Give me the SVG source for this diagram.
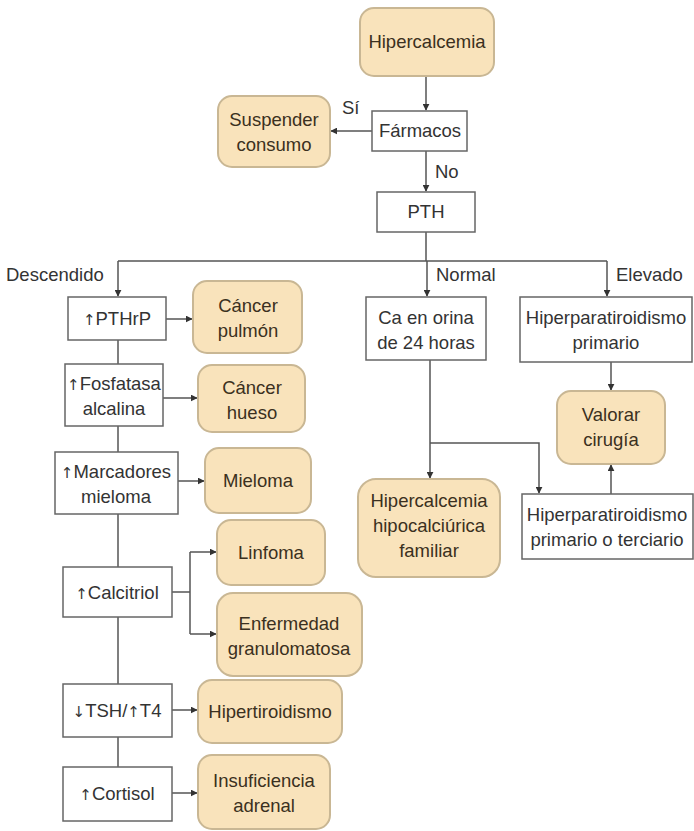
<svg xmlns="http://www.w3.org/2000/svg" width="694" height="831" viewBox="0 0 694 831">
<defs>
<marker id="ah" viewBox="0 0 10 10" refX="9" refY="5" markerWidth="7" markerHeight="7" orient="auto" markerUnits="userSpaceOnUse">
<path d="M0,0 L10,5 L0,10 z" fill="#333"/>
</marker>
<style>
.box{fill:#fff;stroke:#666;stroke-width:1.5}
.res{fill:#f9e3bb;stroke:#c9b794;stroke-width:2}
text{font-family:"Liberation Sans",Arial,sans-serif;font-size:18.5px;fill:#333;text-anchor:middle}
.ar{font-family:"DejaVu Sans",sans-serif;font-size:15px;fill:#333}
.rt{fill:#3b3020}
.lbl{text-anchor:start}
.c{fill:none;stroke:#555;stroke-width:1.5}
.ca{fill:none;stroke:#555;stroke-width:1.5;marker-end:url(#ah)}
</style>
</defs>
<rect width="694" height="831" fill="#fff"/>
<g id="connectors">
<path class="ca" d="M426,76 V110"/>
<path class="ca" d="M372,131 H331"/>
<path class="ca" d="M426,151 V191"/>
<path class="c" d="M426,232 V261 M118,261 H607"/>
<path class="ca" d="M118,261 V296"/>
<path class="ca" d="M427,261 V296"/>
<path class="ca" d="M607,261 V296"/>
<path class="ca" d="M166,319 H192"/>
<path class="c" d="M118,340 V364"/>
<path class="ca" d="M163,398 H197"/>
<path class="c" d="M118,426 V452"/>
<path class="ca" d="M178,481 H204"/>
<path class="c" d="M118,514 V567"/>
<path class="c" d="M172,592 H190 M190,552 V634"/>
<path class="ca" d="M190,552 H216"/>
<path class="ca" d="M190,634 H216"/>
<path class="c" d="M118,617 V684"/>
<path class="ca" d="M172,710 H197"/>
<path class="c" d="M118,737 V767"/>
<path class="ca" d="M172,793 H197"/>
<path class="ca" d="M430,360 V478"/>
<path class="ca" d="M430,443 H539 V493"/>
<path class="ca" d="M611,362 V390"/>
<path class="ca" d="M611,494 V465"/>
<text class="lbl" x="342" y="114">Sí</text>
<text class="lbl" x="435" y="178">No</text>
<text class="lbl" x="6" y="281">Descendido</text>
<text class="lbl" x="436" y="281">Normal</text>
<text class="lbl" x="616" y="281">Elevado</text>
</g>
<g id="hipercalcemia"><rect class="res" x="360" y="8" width="134" height="68" rx="14"/><text class="rt" x="427" y="48">Hipercalcemia</text></g>
<g id="farmacos"><rect class="box" x="372" y="111" width="95" height="40"/><text x="420" y="137">Fármacos</text></g>
<g id="suspender"><rect class="res" x="218" y="96" width="112" height="71" rx="14"/><text class="rt" x="274" y="126">Suspender</text><text class="rt" x="274" y="151">consumo</text></g>
<g id="pth"><rect class="box" x="377" y="192" width="98" height="40"/><text x="426" y="218">PTH</text></g>
<g id="pthrp"><rect class="box" x="68" y="297" width="98" height="43"/><text x="117" y="325"><tspan class="ar">↑</tspan>PTHrP</text></g>
<g id="cancer-pulmon"><rect class="res" x="193" y="281" width="109" height="72" rx="14"/><text class="rt" x="248" y="312">Cáncer</text><text class="rt" x="248" y="337">pulmón</text></g>
<g id="fosfatasa"><rect class="box" x="65" y="364" width="98" height="62"/><text x="114" y="390"><tspan class="ar">↑</tspan>Fosfatasa</text><text x="114" y="415">alcalina</text></g>
<g id="cancer-hueso"><rect class="res" x="198" y="365" width="107" height="67" rx="14"/><text class="rt" x="252" y="394">Cáncer</text><text class="rt" x="252" y="419">hueso</text></g>
<g id="marcadores"><rect class="box" x="55" y="452" width="123" height="62"/><text x="116" y="478"><tspan class="ar">↑</tspan>Marcadores</text><text x="116" y="503">mieloma</text></g>
<g id="mieloma"><rect class="res" x="205" y="448" width="106" height="65" rx="14"/><text class="rt" x="258" y="487">Mieloma</text></g>
<g id="calcitriol"><rect class="box" x="63" y="567" width="109" height="50"/><text x="117" y="599"><tspan class="ar">↑</tspan>Calcitriol</text></g>
<g id="linfoma"><rect class="res" x="217" y="520" width="108" height="65" rx="14"/><text class="rt" x="271" y="559">Linfoma</text></g>
<g id="granulomatosa"><rect class="res" x="217" y="593" width="145" height="83" rx="16"/><text class="rt" x="289" y="630">Enfermedad</text><text class="rt" x="289" y="655">granulomatosa</text></g>
<g id="tsh"><rect class="box" x="63" y="684" width="109" height="53"/><text x="117" y="717"><tspan class="ar">↓</tspan>TSH/<tspan class="ar">↑</tspan>T4</text></g>
<g id="hipertiroidismo"><rect class="res" x="198" y="680" width="144" height="63" rx="14"/><text class="rt" x="270" y="718">Hipertiroidismo</text></g>
<g id="cortisol"><rect class="box" x="63" y="767" width="109" height="54"/><text x="117" y="800"><tspan class="ar">↑</tspan>Cortisol</text></g>
<g id="insuficiencia"><rect class="res" x="198" y="755" width="132" height="74" rx="14"/><text class="rt" x="264" y="787">Insuficiencia</text><text class="rt" x="264" y="812">adrenal</text></g>
<g id="ca-orina"><rect class="box" x="366" y="297" width="120" height="63"/><text x="426" y="324">Ca en orina</text><text x="426" y="349">de 24 horas</text></g>
<g id="hhf"><rect class="res" x="358" y="479" width="142" height="98" rx="18"/><text class="rt" x="429" y="507">Hipercalcemia</text><text class="rt" x="429" y="532">hipocalciúrica</text><text class="rt" x="429" y="557">familiar</text></g>
<g id="hpt-primario"><rect class="box" x="520" y="297" width="172" height="65"/><text x="606" y="324">Hiperparatiroidismo</text><text x="606" y="349">primario</text></g>
<g id="valorar"><rect class="res" x="557" y="391" width="108" height="73" rx="14"/><text class="rt" x="611" y="421">Valorar</text><text class="rt" x="611" y="446">cirugía</text></g>
<g id="hpt-terciario"><rect class="box" x="522" y="494" width="171" height="65"/><text x="607" y="521">Hiperparatiroidismo</text><text x="607" y="546">primario o terciario</text></g>
</svg>
